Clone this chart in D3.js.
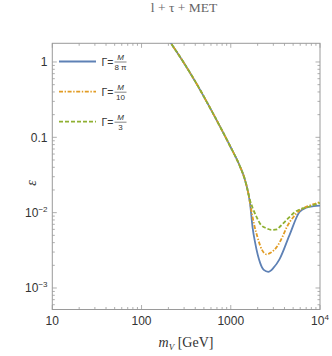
<!DOCTYPE html>
<html><head><meta charset="utf-8">
<script src="https://cdn.jsdelivr.net/npm/d3@7"></script>
<style>body{margin:0;background:#fff}svg{display:block}</style>
</head><body>
<svg id="c" width="332" height="356"></svg>
<script>
// shared (overlapping) part of all three curves
const sharedMV  = [200, 214, 294, 416, 538, 726, 982, 1271, 1413, 1574];
const sharedEps = [2.0, 1.77, 1.0, 0.509, 0.296, 0.153, 0.0767, 0.0408, 0.0295, 0.018];
// Γ = M/(8π)
const blueMV  = [1644, 1758, 1875, 2138, 2344, 2630, 3020, 3510, 4540, 5890, 7080, 8510, 10000];
const blueEps = [0.0133, 0.0063, 0.0040, 0.00214, 0.00174, 0.00164, 0.00186, 0.0024, 0.0050, 0.0102, 0.0117, 0.0122, 0.0124];
// Γ = M/10
const orangeMV  = [1660, 1820, 1995, 2239, 2512, 2818, 3273, 3802, 4266, 5012, 5888, 7079, 8511, 10000];
const orangeEps = [0.0126, 0.0071, 0.0047, 0.0032, 0.0028, 0.00295, 0.0035, 0.0048, 0.0065, 0.0087, 0.0107, 0.0120, 0.0130, 0.0138];
// Γ = M/3
const greenMV  = [1614, 1778, 1950, 2138, 2512, 2884, 3311, 3548, 4169, 4624, 5248, 5984, 7079, 8453, 10000];
const greenEps = [0.0158, 0.0112, 0.0087, 0.0071, 0.0062, 0.0059, 0.0060, 0.0065, 0.0079, 0.0089, 0.0102, 0.0111, 0.0117, 0.0126, 0.0135];

const xTickVals = [10, 100, 1000, 10000];
const xTickLabels = [["10",""], ["100",""], ["1000",""], ["10","4"]];
const yTickVals = [1, 0.1, 0.01, 0.001];
const yTickLabels = [["1",""], ["0.1",""], ["10","\u22122"], ["10","\u22123"]];

const series = [
  {mv: blueMV, eps: blueEps, color: "#5E81B5", dash: null, num: "M", den: "8 \u03C0"},
  {mv: orangeMV, eps: orangeEps, color: "#E19C24", dash: "4,1.6,1.4,1.6", num: "M", den: "10"},
  {mv: greenMV, eps: greenEps, color: "#8FB032", dash: "4,2", num: "M", den: "3"}
];

const L = 52.3, R = 320, T = 43.3, B = 309.5;
const svg = d3.select("#c");
const x = d3.scaleLog().domain([10, 10000]).range([L, R]);
const y = d3.scaleLog().domain([Math.pow(10, -3.2855), Math.pow(10, 0.248)]).range([B, T]);

svg.append("defs").append("clipPath").attr("id", "clip")
  .append("rect").attr("x", L).attr("y", T).attr("width", R - L).attr("height", B - T);

// frame
svg.append("rect").attr("x", L).attr("y", T).attr("width", R - L).attr("height", B - T)
  .attr("fill", "none").attr("stroke", "#9a9a9a").attr("stroke-width", 1);

// ticks
const minorX = [], minorY = [];
for (let d = 10; d < 10000; d *= 10) for (let k = 2; k <= 9; k++) minorX.push(d * k);
for (let d = 0.0001; d < 10; d *= 10) for (let k = 1; k <= 9; k++) {
  const v = d * k;
  if (v >= y.domain()[0] && v <= y.domain()[1] && k !== 1) minorY.push(v);
}
const tk = svg.append("g").attr("stroke", "#9a9a9a").attr("stroke-width", 0.8);
function xt(vals, len) {
  vals.forEach(v => {
    tk.append("line").attr("x1", x(v)).attr("x2", x(v)).attr("y1", B).attr("y2", B - len);
    tk.append("line").attr("x1", x(v)).attr("x2", x(v)).attr("y1", T).attr("y2", T + len);
  });
}
function yt(vals, len) {
  vals.forEach(v => {
    tk.append("line").attr("y1", y(v)).attr("y2", y(v)).attr("x1", L).attr("x2", L + len);
    tk.append("line").attr("y1", y(v)).attr("y2", y(v)).attr("x1", R).attr("x2", R - len);
  });
}
xt(xTickVals, 4.5); xt(minorX, 2.5); yt(yTickVals, 4.5); yt(minorY, 2.5);

// tick labels
const lab = svg.append("g").attr("font-family", "Liberation Sans, Arial, sans-serif")
  .attr("font-size", 12).attr("fill", "#333");
xTickVals.forEach((v, i) => {
  const t = lab.append("text").attr("x", x(v)).attr("y", 325).attr("text-anchor", "middle");
  t.append("tspan").text(xTickLabels[i][0]);
  if (xTickLabels[i][1]) t.append("tspan").attr("dy", -5).attr("font-size", 8).text(xTickLabels[i][1]);
});
yTickVals.forEach((v, i) => {
  const t = lab.append("text").attr("x", 47.5).attr("y", y(v) + 4.5).attr("text-anchor", "end");
  t.append("tspan").text(yTickLabels[i][0]);
  if (yTickLabels[i][1]) t.append("tspan").attr("dy", -5).attr("font-size", 8).text(yTickLabels[i][1]);
});

// curves
const line = d3.line().x(d => x(d[0])).y(d => y(d[1])).curve(d3.curveMonotoneX);
const g = svg.append("g").attr("clip-path", "url(#clip)");
series.forEach(s => {
  const pts = sharedMV.map((m, i) => [m, sharedEps[i]]).concat(s.mv.map((m, i) => [m, s.eps[i]]));
  g.append("path").datum(pts).attr("d", line).attr("fill", "none")
    .attr("stroke", s.color).attr("stroke-width", 1.8)
    .attr("stroke-dasharray", s.dash);
});

// legend
const lg = svg.append("g");
const legY = [61.5, 91.7, 121.7];
series.forEach((s, i) => {
  const yy = legY[i];
  lg.append("line").attr("x1", 59).attr("x2", 96).attr("y1", yy).attr("y2", yy)
    .attr("stroke", s.color).attr("stroke-width", 1.8).attr("stroke-dasharray", s.dash);
  lg.append("text").attr("x", 101.5).attr("y", yy + 4).attr("font-family", "Liberation Sans, Arial, sans-serif")
    .attr("font-size", 10.5).attr("fill", "#333").text("\u0393=");
  const fx = 120.5;
  lg.append("text").attr("x", fx).attr("y", yy - 1.5).attr("text-anchor", "middle")
    .attr("font-family", "Liberation Sans, Arial, sans-serif").attr("font-style", "italic")
    .attr("font-size", 8).attr("fill", "#333").text(s.num);
  lg.append("line").attr("x1", fx - 6).attr("x2", fx + 6).attr("y1", yy + 0.5).attr("y2", yy + 0.5)
    .attr("stroke", "#333").attr("stroke-width", 0.6);
  lg.append("text").attr("x", fx).attr("y", yy + 8.5).attr("text-anchor", "middle")
    .attr("font-family", "Liberation Sans, Arial, sans-serif")
    .attr("font-size", 8).attr("fill", "#333").text(s.den);
});

// axis titles
const ser = "Liberation Serif, Times New Roman, serif";
svg.append("text").attr("x", 184).attr("y", 12).attr("text-anchor", "middle")
  .attr("font-family", ser).attr("font-size", 13.5).attr("fill", "#666").text("l + \u03C4 + MET");
const xl = svg.append("text").attr("x", 186).attr("y", 347).attr("text-anchor", "middle")
  .attr("font-family", ser).attr("font-size", 14).attr("fill", "#333");
xl.append("tspan").attr("font-style", "italic").text("m");
xl.append("tspan").attr("font-size", 9).attr("dy", 3).attr("font-style", "italic").text("V");
xl.append("tspan").attr("dy", -3).text(" [GeV]");
svg.append("text").attr("transform", "translate(36,183) rotate(-90)").attr("text-anchor", "middle")
  .attr("font-family", ser).attr("font-style", "italic").attr("font-size", 14).attr("fill", "#333").text("\u03B5");
</script>
</body></html>
